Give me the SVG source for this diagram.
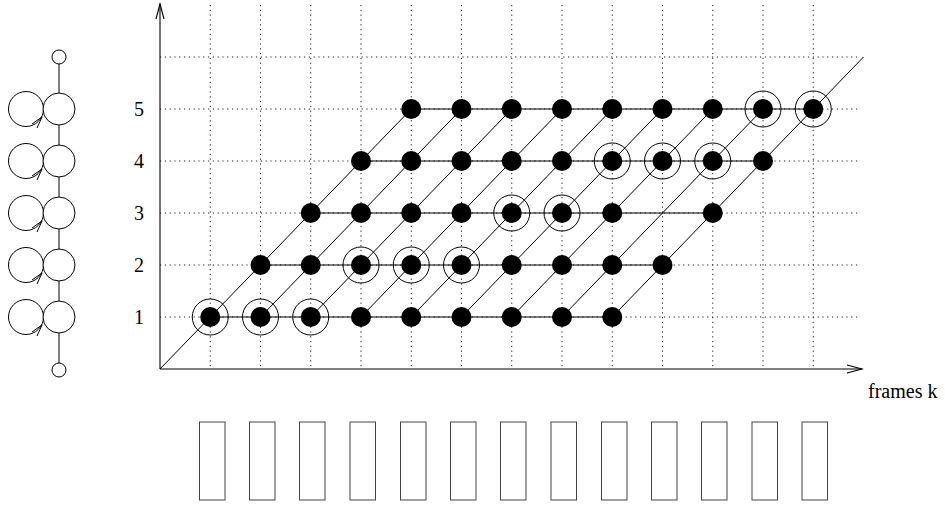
<svg xmlns="http://www.w3.org/2000/svg" width="945" height="505" viewBox="0 0 945 505">
<style>
.grid{stroke:#222;stroke-width:1;stroke-dasharray:1.2 3.6;fill:none}
.ax{stroke:#000;stroke-width:1.1;fill:none}
.ln{stroke:#000;stroke-width:1;fill:none}
.dot{fill:#000}
.ring{fill:none;stroke:#000;stroke-width:1}
.st{fill:#fff;stroke:#000;stroke-width:1}
.fr{fill:#fff;stroke:#444;stroke-width:1}
.lbl{font-family:"Liberation Serif","Times New Roman",serif;font-size:20px;fill:#000}
</style>
<rect width="945" height="505" fill="#fff"/>
<g id="grid">
<line class="grid" x1="160" y1="317" x2="860" y2="317"/>
<line class="grid" x1="160" y1="265" x2="860" y2="265"/>
<line class="grid" x1="160" y1="213" x2="860" y2="213"/>
<line class="grid" x1="160" y1="161" x2="860" y2="161"/>
<line class="grid" x1="160" y1="109" x2="860" y2="109"/>
<line class="grid" x1="160" y1="57" x2="860" y2="57"/>
<line class="grid" x1="210.25" y1="5" x2="210.25" y2="369"/>
<line class="grid" x1="260.5" y1="5" x2="260.5" y2="369"/>
<line class="grid" x1="310.75" y1="5" x2="310.75" y2="369"/>
<line class="grid" x1="361" y1="5" x2="361" y2="369"/>
<line class="grid" x1="411.25" y1="5" x2="411.25" y2="369"/>
<line class="grid" x1="461.5" y1="5" x2="461.5" y2="369"/>
<line class="grid" x1="511.75" y1="5" x2="511.75" y2="369"/>
<line class="grid" x1="562" y1="5" x2="562" y2="369"/>
<line class="grid" x1="612.25" y1="5" x2="612.25" y2="369"/>
<line class="grid" x1="662.5" y1="5" x2="662.5" y2="369"/>
<line class="grid" x1="712.75" y1="5" x2="712.75" y2="369"/>
<line class="grid" x1="763" y1="5" x2="763" y2="369"/>
<line class="grid" x1="813.25" y1="5" x2="813.25" y2="369"/>
</g>
<g id="axes">
<line class="ax" x1="160" y1="4" x2="160" y2="369"/>
<polyline class="ax" points="156,19 160,4 164,19"/>
<line class="ax" x1="160" y1="369" x2="862" y2="369"/>
<polyline class="ax" points="847,365 862,369 847,373"/>
<text class="lbl" x="868" y="398">frames k</text>
<text class="lbl" x="134" y="116">5</text>
<text class="lbl" x="134" y="168">4</text>
<text class="lbl" x="134" y="220">3</text>
<text class="lbl" x="134" y="272">2</text>
<text class="lbl" x="134" y="324">1</text>
</g>
<g id="connectors">
<line class="ln" x1="210.25" y1="317" x2="612.25" y2="317"/>
<line class="ln" x1="260.5" y1="265" x2="662.5" y2="265"/>
<line class="ln" x1="310.75" y1="213" x2="712.75" y2="213"/>
<line class="ln" x1="361" y1="161" x2="763" y2="161"/>
<line class="ln" x1="411.25" y1="109" x2="813.25" y2="109"/>
<line class="ln" x1="160" y1="369" x2="411.25" y2="109"/>
<line class="ln" x1="260.5" y1="317" x2="461.5" y2="109"/>
<line class="ln" x1="310.75" y1="317" x2="511.75" y2="109"/>
<line class="ln" x1="361" y1="317" x2="562" y2="109"/>
<line class="ln" x1="411.25" y1="317" x2="612.25" y2="109"/>
<line class="ln" x1="461.5" y1="317" x2="662.5" y2="109"/>
<line class="ln" x1="511.75" y1="317" x2="712.75" y2="109"/>
<line class="ln" x1="562" y1="317" x2="763" y2="109"/>
<line class="ln" x1="612.25" y1="317" x2="863.5" y2="57"/>
<line class="ln" x1="59" y1="64" x2="59" y2="363"/>
</g>
<g id="row1">
<g id="n1_1"><circle class="ring" cx="210.25" cy="317" r="18"/><circle class="dot" cx="210.25" cy="317" r="10"/></g>
<g id="n1_2"><circle class="ring" cx="260.5" cy="317" r="18"/><circle class="dot" cx="260.5" cy="317" r="10"/></g>
<g id="n1_3"><circle class="ring" cx="310.75" cy="317" r="18"/><circle class="dot" cx="310.75" cy="317" r="10"/></g>
<g id="n1_4"><circle class="dot" cx="361" cy="317" r="10"/></g>
<g id="n1_5"><circle class="dot" cx="411.25" cy="317" r="10"/></g>
<g id="n1_6"><circle class="dot" cx="461.5" cy="317" r="10"/></g>
<g id="n1_7"><circle class="dot" cx="511.75" cy="317" r="10"/></g>
<g id="n1_8"><circle class="dot" cx="562" cy="317" r="10"/></g>
<g id="n1_9"><circle class="dot" cx="612.25" cy="317" r="10"/></g>
</g>
<g id="row2">
<g id="n2_2"><circle class="dot" cx="260.5" cy="265" r="10"/></g>
<g id="n2_3"><circle class="dot" cx="310.75" cy="265" r="10"/></g>
<g id="n2_4"><circle class="ring" cx="361" cy="265" r="18"/><circle class="dot" cx="361" cy="265" r="10"/></g>
<g id="n2_5"><circle class="ring" cx="411.25" cy="265" r="18"/><circle class="dot" cx="411.25" cy="265" r="10"/></g>
<g id="n2_6"><circle class="ring" cx="461.5" cy="265" r="18"/><circle class="dot" cx="461.5" cy="265" r="10"/></g>
<g id="n2_7"><circle class="dot" cx="511.75" cy="265" r="10"/></g>
<g id="n2_8"><circle class="dot" cx="562" cy="265" r="10"/></g>
<g id="n2_9"><circle class="dot" cx="612.25" cy="265" r="10"/></g>
<g id="n2_10"><circle class="dot" cx="662.5" cy="265" r="10"/></g>
</g>
<g id="row3">
<g id="n3_3"><circle class="dot" cx="310.75" cy="213" r="10"/></g>
<g id="n3_4"><circle class="dot" cx="361" cy="213" r="10"/></g>
<g id="n3_5"><circle class="dot" cx="411.25" cy="213" r="10"/></g>
<g id="n3_6"><circle class="dot" cx="461.5" cy="213" r="10"/></g>
<g id="n3_7"><circle class="ring" cx="511.75" cy="213" r="18"/><circle class="dot" cx="511.75" cy="213" r="10"/></g>
<g id="n3_8"><circle class="ring" cx="562" cy="213" r="18"/><circle class="dot" cx="562" cy="213" r="10"/></g>
<g id="n3_9"><circle class="dot" cx="612.25" cy="213" r="10"/></g>
<g id="n3_11"><circle class="dot" cx="712.75" cy="213" r="10"/></g>
</g>
<g id="row4">
<g id="n4_4"><circle class="dot" cx="361" cy="161" r="10"/></g>
<g id="n4_5"><circle class="dot" cx="411.25" cy="161" r="10"/></g>
<g id="n4_6"><circle class="dot" cx="461.5" cy="161" r="10"/></g>
<g id="n4_7"><circle class="dot" cx="511.75" cy="161" r="10"/></g>
<g id="n4_8"><circle class="dot" cx="562" cy="161" r="10"/></g>
<g id="n4_9"><circle class="ring" cx="612.25" cy="161" r="18"/><circle class="dot" cx="612.25" cy="161" r="10"/></g>
<g id="n4_10"><circle class="ring" cx="662.5" cy="161" r="18"/><circle class="dot" cx="662.5" cy="161" r="10"/></g>
<g id="n4_11"><circle class="ring" cx="712.75" cy="161" r="18"/><circle class="dot" cx="712.75" cy="161" r="10"/></g>
<g id="n4_12"><circle class="dot" cx="763" cy="161" r="10"/></g>
</g>
<g id="row5">
<g id="n5_5"><circle class="dot" cx="411.25" cy="109" r="10"/></g>
<g id="n5_6"><circle class="dot" cx="461.5" cy="109" r="10"/></g>
<g id="n5_7"><circle class="dot" cx="511.75" cy="109" r="10"/></g>
<g id="n5_8"><circle class="dot" cx="562" cy="109" r="10"/></g>
<g id="n5_9"><circle class="dot" cx="612.25" cy="109" r="10"/></g>
<g id="n5_10"><circle class="dot" cx="662.5" cy="109" r="10"/></g>
<g id="n5_11"><circle class="dot" cx="712.75" cy="109" r="10"/></g>
<g id="n5_12"><circle class="ring" cx="763" cy="109" r="18"/><circle class="dot" cx="763" cy="109" r="10"/></g>
<g id="n5_13"><circle class="ring" cx="813.25" cy="109" r="18"/><circle class="dot" cx="813.25" cy="109" r="10"/></g>
</g>
<g id="hmm">
<g id="hmm_start"><circle class="st" cx="59" cy="57" r="7"/></g>
<g id="hmm_end"><circle class="st" cx="59" cy="370" r="7"/></g>
<g id="hmm_s5"><circle class="ln" cx="26" cy="109" r="17.5"/><circle class="st" cx="59" cy="109" r="16"/><polyline class="ln" points="32,124 42,117 37,128"/></g>
<g id="hmm_s4"><circle class="ln" cx="26" cy="161" r="17.5"/><circle class="st" cx="59" cy="161" r="16"/><polyline class="ln" points="32,176 42,169 37,180"/></g>
<g id="hmm_s3"><circle class="ln" cx="26" cy="213" r="17.5"/><circle class="st" cx="59" cy="213" r="16"/><polyline class="ln" points="32,228 42,221 37,232"/></g>
<g id="hmm_s2"><circle class="ln" cx="26" cy="265" r="17.5"/><circle class="st" cx="59" cy="265" r="16"/><polyline class="ln" points="32,280 42,273 37,284"/></g>
<g id="hmm_s1"><circle class="ln" cx="26" cy="317" r="17.5"/><circle class="st" cx="59" cy="317" r="16"/><polyline class="ln" points="32,332 42,325 37,336"/></g>
</g>
<g id="frames">
<rect class="fr" x="199.5" y="422" width="25.5" height="78"/>
<rect class="fr" x="249.5" y="422" width="25.5" height="78"/>
<rect class="fr" x="299.5" y="422" width="25.5" height="78"/>
<rect class="fr" x="350" y="422" width="25.5" height="78"/>
<rect class="fr" x="400.5" y="422" width="25.5" height="78"/>
<rect class="fr" x="450.5" y="422" width="25.5" height="78"/>
<rect class="fr" x="500.5" y="422" width="25.5" height="78"/>
<rect class="fr" x="551" y="422" width="25.5" height="78"/>
<rect class="fr" x="601.5" y="422" width="25.5" height="78"/>
<rect class="fr" x="651.5" y="422" width="25.5" height="78"/>
<rect class="fr" x="701.5" y="422" width="25.5" height="78"/>
<rect class="fr" x="752" y="422" width="25.5" height="78"/>
<rect class="fr" x="802" y="422" width="25.5" height="78"/>
</g>
</svg>
